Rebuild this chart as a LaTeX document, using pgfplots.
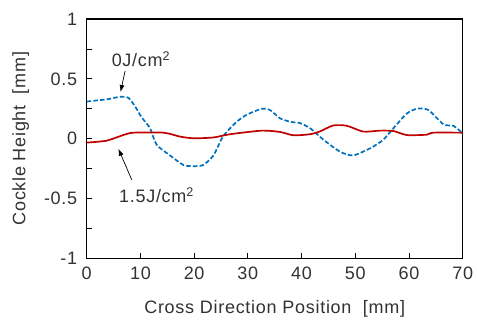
\documentclass[border=0pt]{standalone}
\usepackage{fontspec}
\setmainfont{Liberation Sans}[LetterSpace=4]
\usepackage{pgfplots}
\pgfplotsset{compat=1.18}
\usetikzlibrary{arrows.meta}
\definecolor{txt}{RGB}{50,50,50}
\definecolor{bl}{RGB}{0,112,192}
\definecolor{rd}{RGB}{192,0,0}
\begin{document}
\begin{tikzpicture}[font=\fontsize{18bp}{21bp}\selectfont]
\begin{axis}[
  scale only axis,
  width=376bp, height=239.3bp,
  xmin=0, xmax=70, ymin=-1, ymax=1,
  xtick={0,10,...,70},
  ytick={-1,-0.5,0,0.5,1},
  minor ytick={-0.75,-0.25,0.25,0.75},
  xtick pos=bottom, ytick pos=left,
  tick align=inside,
  major tick length=5bp, minor tick length=5bp,
  tick style={black, line width=0.8bp},
  axis line style={black, line width=1.2bp},
  /pgf/number format/assume math mode=true,
  ticklabel style={text=txt},
  yticklabel style={xshift=-6bp},
  xticklabel style={yshift=-5bp},
  xlabel={Cross Direction Position\ \ [mm]},
  ylabel={Cockle Height\ \ [mm]},
  label style={text=txt},
  xlabel style={yshift=-14bp},
  ylabel style={yshift=8bp},
  clip=false,
]
\addplot[bl, line width=1.7bp, dash pattern=on 4.5bp off 2.2bp, smooth, tension=0.4] coordinates {
(0,0.31) (2,0.32) (4,0.33) (6.2,0.35) (7.8,0.34) (9,0.27) (10.2,0.18) (11.8,0.087)
(13,-0.05) (15.5,-0.14) (18,-0.22) (19.9,-0.23) (21.7,-0.22) (23.6,-0.14)
(25.4,0.02) (27.9,0.14) (29.8,0.2) (32.6,0.25) (34.1,0.24) (36,0.17)
(38,0.14) (39.7,0.13) (41.6,0.087) (44.1,-0.01) (47.2,-0.11) (49.6,-0.14)
(52.8,-0.08) (55.2,-0.01) (57.1,0.087) (59.6,0.21) (61.5,0.25) (63.6,0.24)
(66.4,0.12) (68.3,0.106) (70,0.045)
};
\addplot[rd, line width=1.7bp, smooth, tension=0.4] coordinates {
(0,-0.033) (3.7,-0.017) (6.8,0.03) (8.7,0.05) (14.3,0.05) (17.4,0.017)
(19.9,0.003) (23.6,0.01) (26.7,0.037) (32.6,0.067) (36,0.056) (38.5,0.028)
(41.6,0.037) (43.4,0.06) (45.9,0.11) (48.4,0.108) (51.5,0.059) (54.6,0.067)
(57.1,0.064) (59.6,0.03) (63.3,0.033) (64.5,0.05) (70,0.05)
};
\node[text=txt] at (axis cs:10.1,0.666) {0J/cm\textsuperscript{2}};
\node[text=txt] at (axis cs:13.0,-0.47) {1.5J/cm\textsuperscript{2}};
\draw[-{Latex[length=7bp,width=5bp]}, line width=0.7bp] (axis cs:7.15,0.566) -- (axis cs:6.3,0.39);
\draw[-{Latex[length=7bp,width=5bp]}, line width=0.7bp] (axis cs:8.4,-0.345) -- (axis cs:5.9,-0.085);
\coordinate (sw) at (rel axis cs:0,0);
\coordinate (ne) at (rel axis cs:1,1);
\end{axis}
\pgfresetboundingbox
\path[use as bounding box] ([shift={(-86.7bp,-65.7bp)}]sw) rectangle ([shift={(14.3bp,19bp)}]ne);
\end{tikzpicture}
\end{document}
